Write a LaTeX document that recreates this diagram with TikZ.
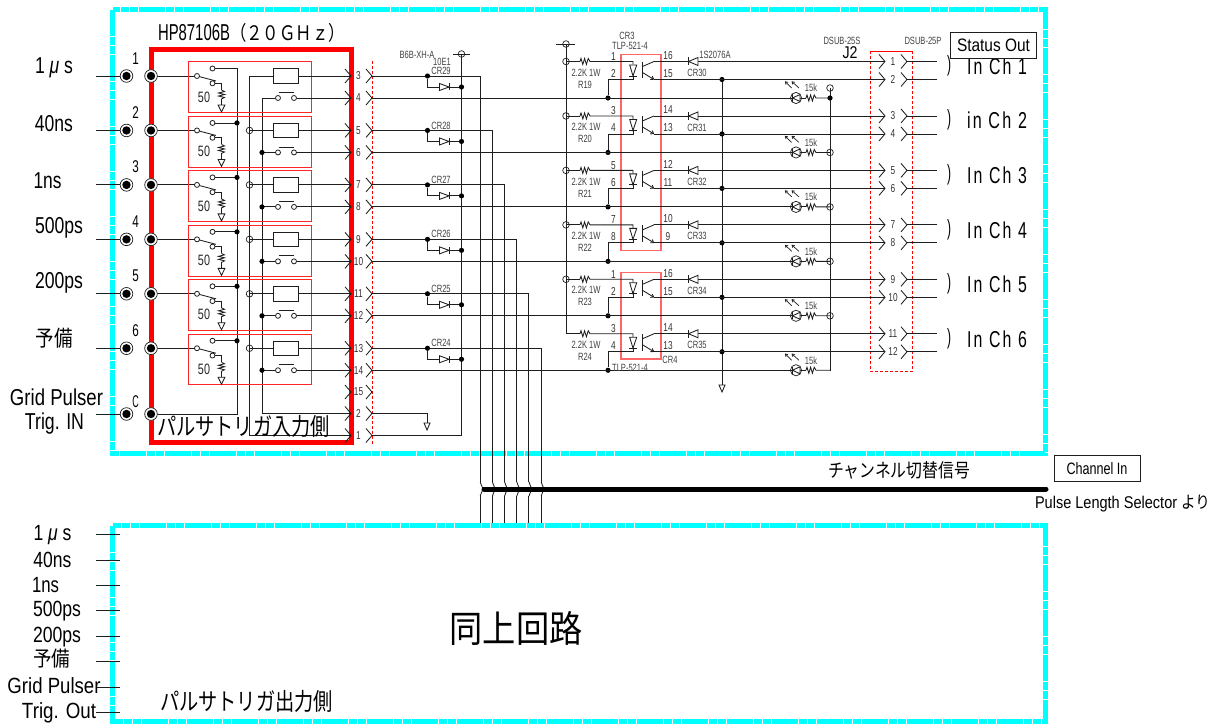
\documentclass[tikz,border=0pt]{standalone}
\usepackage{fontspec}
\usepackage{graphicx}
\usetikzlibrary{arrows.meta}
\setmainfont{Liberation Sans}
\newfontfamily\cond[FakeStretch=0.72]{Liberation Sans}
\newfontfamily\spc[LetterSpace=14]{Liberation Sans}
\newfontfamily\cjk{Noto Sans CJK JP}
\newcommand\W[3]{\resizebox{#1pt}{\height}{\fontsize{#2}{#2}\selectfont #3}}
\definecolor{cy}{RGB}{0,255,255}
\definecolor{ink}{RGB}{30,30,30}
\tikzset{
  wire/.style={line width=.85pt,draw=ink},
  frame/.style={line width=5pt,draw=cy,dash pattern=on 26pt off 1pt on 8pt off 1pt on 8pt off 1pt},
  redbox/.style={line width=1pt,draw=red!85},
  dashbox/.style={line width=.8pt,draw=red,dash pattern=on 3pt off 2pt},
  lab/.style={inner sep=0pt,outer sep=0pt,text=black},
  tiny/.style={lab,font=\cond\fontsize{10.5}{10.5}\selectfont,text=black!75},
  num/.style={lab,font=\cond\fontsize{11.5}{11.5}\selectfont,text=black!80},
  ring/.style={circle,draw=ink,line width=.7pt,fill=none,minimum size=6.6pt,inner sep=0pt},
  jdot/.style={circle,fill=black,minimum size=5.2pt,inner sep=0pt},
  tip/.style={circle,draw=ink,line width=.8pt,fill=white,minimum size=5pt,inner sep=0pt},
}
\newcommand\Chev[2]{\draw[wire] (#1-6,#2-7) -- (#1,#2) -- (#1-6,#2+7);}
\newcommand\Term[2]{\fill[white] (#1,#2) circle[radius=6.5pt];
  \draw[ink,line width=.7pt] (#1,#2) circle[radius=6.3pt];
  \fill[black] (#1,#2) circle[radius=4.2pt];}
\newcommand\Gnd[3]{\draw[wire,fill=white] (#1-#3,#2) -- (#1+#3,#2) -- (#1,#2+7) -- cycle;}
\newcommand\Zh[2]{(#1,#2) -- (#1+1,#2-3) -- (#1+2.8,#2+3) -- (#1+4.6,#2-3) -- (#1+6.4,#2+3) -- (#1+8.2,#2-3) -- (#1+10,#2)}
\newcommand\Zv[2]{(#1,#2) -- (#1+3,#2+1.5) -- (#1-3,#2+3) -- (#1+3,#2+4.5) -- (#1-3,#2+6) -- (#1+3,#2+7.5) -- (#1,#2+9)}
\begin{document}
\begin{tikzpicture}[x=1pt,y=-1pt]
\useasboundingbox (0,0) rectangle (1224,725);
% frames
\draw[frame] (112.5,10) rectangle (1045.5,453);
\draw[frame] (112.5,525.5) rectangle (1045.5,721.5);
\draw[red,line width=5pt,line join=miter] (151,50) rectangle (351,442);
\draw[dashbox] (372.5,61) -- (372.5,445);
\draw[dashbox] (870,51) -- (870,371) -- (912.5,371) -- (912.5,51);
\draw[red,line width=.9pt] (870,51) -- (912.5,51);
\draw[red!60,line width=1.2pt] (621,54.3) rectangle (661,250.7);
\draw[red!60,line width=1.2pt] (621,272.7) rectangle (661,359);

% main title
\node[lab,anchor=base west] (title) at (158,40.5) {\W{72}{23}{HP87106B}\W{115}{20}{\cjk （２０ＧＨｚ）}};

% power buses
\coordinate (busA) at (237,414);
\coordinate (busAt) at (237,68.5);
\coordinate (busB) at (249.5,435.5);
\coordinate (busBt) at (249.5,76);
\coordinate (busC) at (262,413.5);
\coordinate (busCt) at (262,98);
\coordinate (c1) at (351,435.5);
\coordinate (c2) at (351,413.5);
\coordinate (c1o) at (372,435.5);
\coordinate (c2o) at (372,413.5);
\coordinate (c15) at (351,392);
\node[lab,minimum size=1pt] (tc) at (151,414) {};
\draw[wire] (tc) -- (busA) -- (busAt);
\draw[wire] (busBt) -- (busB) -- (c1);
\draw[wire] (busCt) -- (busC) -- (c2);
\coordinate (bus1t) at (461.5,54);
\draw[wire] (bus1t) -- (461.5,435.5) -- (c1o);
\draw[wire] (453,54) -- (470,54);
\node[ring] (bus1top) at (bus1t) {};
\draw[wire] (c2o) -- (427,413.5) -- (427,423);
\Gnd{427}{423}{3}

% input rows
\foreach \k [evaluate=\k as \y using 76+54.45*\k, evaluate=\k as \ye using 98+54.45*\k,
  evaluate=\k as \nA using int(3+2*\k), evaluate=\k as \nB using int(4+2*\k),
  evaluate=\k as \xv using 480+12.2*\k, evaluate=\k as \cr using int(29-\k)] in {0,...,5} {
  \coordinate (a\k) at (96,\y);
  \coordinate (ae\k) at (121,\y);
  \coordinate (in\k) at (151,\y);
  \coordinate (com\k) at (197,\y);
  \draw[wire] (a\k) -- (ae\k);
  \draw[wire] (in\k) -- (com\k);
  \draw[redbox] (188,\y-14) rectangle (311,\y+36.7);
  % switch
  \draw[wire] (com\k) -- (216,\y+5);
  \node[tip] (su\k) at (212.5,\y-7.5) {};
  \node[tip] (sl\k) at (212.5,\y+7.3) {};
  \node[tip] (sc\k) at (197,\y) {};
  \draw[wire] (su\k) -- (237,\y-7.5);
  \draw[wire] (sl\k) -- (221.5,\y+7.3) -- (221.5,\y+14);
  \draw[wire] \Zv{221.5}{\y+14} -- (221.5,\y+29);
  \Gnd{221.5}{\y+29}{3.4}
  \node[lab,font=\cond\fontsize{15}{15}\selectfont,text=black!85] (fifty\k) at (204,\y+21) {50};
  % relay
  \node[draw=ink,line width=.9pt,fill=white,minimum width=25.5pt,minimum height=14.5pt,inner sep=0pt] (rel\k) at (286,\y) {};
  \coordinate (o\k) at (351,\y);
  \coordinate (e\k) at (351,\ye);
  \coordinate (busBn\k) at (249.5,\y);
  \coordinate (busCn\k) at (262,\ye);
  \draw[wire] (busBn\k) -- (rel\k);
  \draw[wire] (rel\k) -- (o\k);
  \node[tip] (no1\k) at (278,\ye) {};
  \node[tip] (no2\k) at (294,\ye) {};
  \draw[wire] (busCn\k) -- (no1\k);
  \draw[wire] (no2\k) -- (e\k);
  \draw[wire] (278.6,\ye-5.5) -- (293.6,\ye-5.5);
  \ifnum\k>0
    \node[ring] (bb\k) at (busBn\k) {};
    \node[jdot] (bc\k) at (busCn\k) {};
    \node[jdot] (ba\k) at (237,\y-7.5) {};
  \fi
  % connector pair
  \Chev{351}{\y}\Chev{372}{\y}\Chev{351}{\ye}\Chev{372}{\ye}
  \node[num] (nA\k) at (358.5,\y) {\nA};
  \node[num] (nB\k) at (358.5,\ye) {\nB};
  % outgoing wires
  \coordinate (out\k) at (372,\y);
  \coordinate (oute\k) at (372,\ye);
  \coordinate (cor\k) at (\xv,\y);
  \coordinate (vA\k) at (\xv,482);
  \coordinate (vB\k) at (\xv,496);
  \coordinate (vC\k) at (\xv,523);
  \draw[wire] (out\k) -- (cor\k) -- (vA\k);
  \draw[wire] (vA\k) to[out=90,in=180,looseness=.7] ++(4,7);
  \draw[wire] (vB\k) to[out=-90,in=180,looseness=.7] ++(4,-7);
  \draw[wire] (vB\k) -- (vC\k);
  % 10E1 diode
  \node[jdot] (jd\k) at (427.5,\y) {};
  \node[jdot] (jb\k) at (461.5,\y+11) {};
  \draw[wire] (jd\k) |- (jb\k);
  \draw[wire,fill=white] (439.5,\y+7.5) -- (439.5,\y+14.5) -- (449,\y+11) -- cycle;
  \draw[wire] (449.5,\y+7.5) -- (449.5,\y+14.5);
  \node[tiny] (crl\k) at (441,\y-5) {CR\cr};
}
% last three connectors
\Chev{351}{392}\Chev{372}{392}\Chev{351}{413.5}\Chev{372}{413.5}\Chev{351}{435.5}\Chev{372}{435.5}
\node[num] (n15) at (358.5,392) {15};
\node[num] (n2) at (358.5,413.5) {2};
\node[num] (n1) at (358.5,435.5) {1};
\node[tiny] (bxh) at (417,55) {B6B-XH-A};
\node[tiny] (tene) at (442,61.5) {10E1};

% opto section
\coordinate (vccT) at (566,44);
\coordinate (vccB) at (566,333.8);
\draw[wire] (vccT) -- (vccB);
\draw[wire] (556,44) -- (575,44);
\node[ring] (vcctop) at (vccT) {};
\coordinate (gndT) at (722,79.5);
\coordinate (gndB) at (722,385);
\draw[wire] (gndT) -- (gndB);
\Gnd{722}{385}{3}
\coordinate (ledT) at (830,88);
\coordinate (ledB) at (830,370.7);
\draw[wire] (ledT) -- (ledB);
\node[ring] (ledtop) at (ledT) {};
\node[jdot] (ledjd) at (830,98) {};

\foreach \k/\a/\b/\c/\d [evaluate=\k as \ya using 61.5+54.45*\k, evaluate=\k as \yb using 79.5+54.45*\k,
  evaluate=\k as \yc using 98+54.45*\k, evaluate=\k as \rn using int(19+\k), evaluate=\k as \cn using int(30+\k),
  evaluate=\k as \ja using int(1+2*\k), evaluate=\k as \jb using int(2+2*\k)]
  in {0/1/2/16/15,1/3/4/14/13,2/5/6/12/11,3/7/8/10/9,4/1/2/16/15,5/3/4/14/13} {
  \ifnum\k<5 \node[ring] (vr\k) at (566,\ya) {}; \fi
  \node[jdot] (cj\k) at (608,\yc) {};
  \node[jdot] (gj\k) at (722,\yb) {};
  \coordinate (pj\k) at (885,\ya);
  \coordinate (qj\k) at (885,\yb);
  \coordinate (pjo\k) at (907,\ya);
  \coordinate (qjo\k) at (907,\yb);
  \coordinate (pje\k) at (937,\ya);
  \coordinate (qje\k) at (937,\yb);
  % supply through resistor to LED anode
  \draw[wire] (566,\ya) -- (580,\ya);
  \draw[wire] \Zh{580}{\ya} -- (633,\ya) -- (633,\ya+3);
  \draw[wire,fill=white] (629.7,\ya+3.5) -- (636.7,\ya+3.5) -- (633,\ya+14.5) -- cycle;
  \draw[wire] (629.2,\ya+14.5) -- (637,\ya+14.5);
  \draw[wire] (633,\ya+14.5) -- (633,\yb) -- (608,\yb) -- (cj\k);
  % phototransistor
  \draw[wire,line width=1pt] (642.5,\ya+0.3) -- (642.5,\ya+17);
  \draw[wire] (642.5,\ya+5) -- (654,\ya);
  \draw[wire,-{To[length=3.5pt,width=4.5pt]}] (642.5,\ya+11) -- (654,\yb);
  \draw[wire] (654,\ya) -- (pj\k);
  \draw[wire] (654,\yb) -- (qj\k);
  % diode
  \draw[wire,fill=white] (688.5,\ya) -- (698,\ya-4) -- (698,\ya+4) -- cycle;
  \draw[wire] (688,\ya-4) -- (688,\ya+4);
  % connector J2
  \Chev{885}{\ya}\Chev{907}{\ya}\Chev{885}{\yb}\Chev{907}{\yb}
  \draw[wire] (pjo\k) -- (pje\k);
  \draw[wire] (qjo\k) -- (qje\k);
  \node[num] (ja\k) at (893,\ya) {\ja};
  \node[num] (jb\k x) at (893,\yb) {\jb};
  % pin numbers and names
  \node[num] (pa\k) at (613.5,\ya-5) {\a};
  \node[num] (pb\k) at (613.5,\yb-6) {\b};
  \node[num] (pc\k) at (668,\ya-6) {\c};
  \node[num] (pd\k) at (668,\yb-6) {\d};
  \node[tiny] (rv\k) at (586,\ya+11) {2.2K 1W};
  \node[tiny] (rn\k) at (585,\ya+23) {R\rn};
  \node[tiny] (cr\k) at (697,\ya+11.5) {CR\cn};
  % even wire and LED
  \draw[wire] (oute\k) -- (806,\yc);
  \draw[wire] \Zh{806}{\yc} -- (830,\yc);
  \draw[ink,line width=.7pt] (796,\yc) circle[radius=5.6pt];
  \draw[wire,fill=white] (792.5,\yc) -- (800,\yc-3.5) -- (800,\yc+3.5) -- cycle;
  \draw[wire] (792,\yc-3.5) -- (792,\yc+3.5);
  \draw[wire,line width=.7pt,-{To[length=3pt,width=3.5pt]}] (791.7,\yc-10) -- (785,\yc-16.5);
  \draw[wire,line width=.7pt,-{To[length=3pt,width=3.5pt]}] (799,\yc-10) -- (791.7,\yc-16.5);
  \node[tiny] (k\k) at (811,\yc-10) {15k};
  \ifnum\k>0 \ifnum\k<5 \node[ring] (lr\k) at (830,\yc) {}; \fi\fi
}
\node[tiny] (cr3) at (627,36) {CR3};
\node[tiny] (tlp3) at (630,45.5) {TLP-521-4};
\node[tiny] (cr4) at (670,360) {CR4};
\node[tiny] (tlp4) at (630,367.6) {TLP-521-4};
\node[tiny] (s20) at (715,55) {1S2076A};
\node[tiny] (ds) at (842,41) {DSUB-25S};
\node[tiny] (dp) at (923,41) {DSUB-25P};
\node[lab] (j2) at (850,53) {\W{15}{17}{J2}};

% right side labels
\foreach \k/\y/\t in {0/66/In Ch 1,1/120/in Ch 2,2/175/In Ch 3,3/230/In Ch 4,4/284/In Ch 5,5/339/In Ch 6}{
  \node[lab,anchor=center] (rc\k) at (949,\y) {\W{4}{22}{)}};
  \node[lab,anchor=center] (rt\k) at (997,\y) {\W{60}{23}{\spc \t}};
}
\node[draw=ink,line width=.9pt,fill=white,lab,minimum width=86.5pt,minimum height=26pt] (status) at (993.5,45.3) {\W{73}{18}{Status Out}};

% left labels
\foreach \k/\y/\w/\xx/\t in {0/68/38/54/{1 {\itshape μ} s},1/124/38/54/40ns,2/181/28/47.5/1ns,3/228/48/59/500ps,4/283/48/59/200ps}{
  \node[lab] (ll\k) at (\xx,\y) {\W{\w}{23}{\t}};
}
\node[lab] (ll5) at (54,338) {\W{37}{22}{\cjk 予備}};
\node[lab] (lg1) at (56.5,397) {\W{93}{23}{Grid Pulser}};
\node[lab] (lg2) at (54.5,424) {\W{59}{23}{Trig. IN}};
\foreach \k/\y/\t in {0/59/1,1/113/2,2/167/3,3/222/4,4/276/5,5/331/6,6/402/C}{
  \node[lab] (tn\k) at (135.5,\y) {\W{6.5}{17}{\t}};
}
\coordinate (acL) at (96,414);
\coordinate (acR) at (121,414);
\draw[wire] (acL) -- (acR);
\foreach \y in {76,130.45,184.9,239.35,293.8,348.25,414}{
  \Term{126.5}{\y}
  \Term{151}{\y}
}
\node[lab] (inlab) at (243.5,426) {\W{173}{24}{\cjk パルサトリガ入力側}};

% selector bus
\coordinate (selL) at (484,489);
\coordinate (selR) at (1046,489);
\draw[black,line width=5pt,line cap=round] (selL) -- (selR);
\node[lab] (chjp) at (899,470) {\W{142}{19}{\cjk チャンネル切替信号}};
\node[draw=ink,line width=.9pt,lab,minimum width=86pt,minimum height=26pt] (chin) at (1097,468.7) {\W{61}{16.5}{Channel In}};
\node[lab] (plen) at (1122.5,504) {\W{175}{17}{Pulse Length Selector {\cjk より}}};

% lower block
\foreach \k/\y in {0/534.3,1/560,2/585.3,3/610.7,4/636,5/661.7,6/687.3,7/712.7}{
  \coordinate (lo\k) at (96,\y);
  \coordinate (lp\k) at (120,\y);
  \draw[wire] (lo\k) -- (lp\k);
}
\foreach \k/\y/\w/\xx/\t in {0/535/38/52.5/{1 {\itshape μ} s},1/560/38/52.5/40ns,2/585/27/45.5/1ns,3/611/48/57/500ps,4/637/48/57/200ps}{
  \node[lab] (ml\k) at (\xx,\y) {\W{\w}{22}{\t}};
}
\node[lab] (ml5) at (52,659) {\W{37}{21}{\cjk 予備}};
\node[lab] (ml6) at (54,686) {\W{93}{22}{Grid Pulser}};
\node[lab] (ml7) at (59,713) {\W{74}{22}{Trig. Out}};
\node[lab] (same) at (516,628) {\W{133}{37}{\cjk 同上回路}};
\node[lab] (outlab) at (246.5,701) {\W{173}{24}{\cjk パルサトリガ出力側}};
\end{tikzpicture}
\end{document}
